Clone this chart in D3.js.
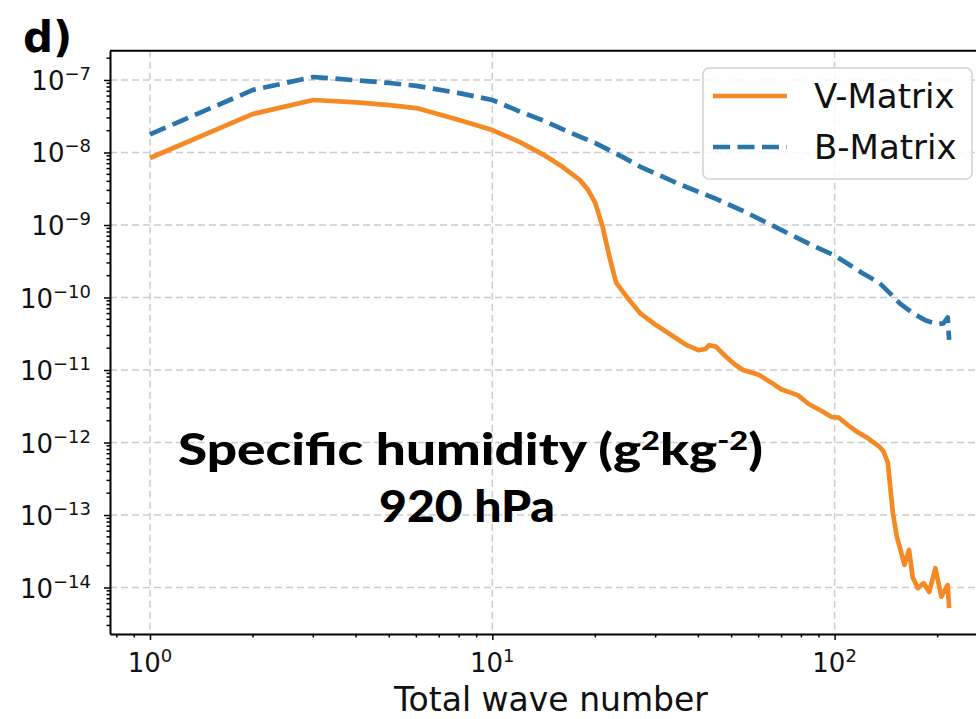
<!DOCTYPE html>
<html lang="en">
<head>
<meta charset="UTF-8" />
<title>Specific humidity spectra 920 hPa</title>
<style>
  body { margin: 0; background: #fff; }
  svg { display: block; font-family: 'DejaVu Sans', sans-serif; }
  .grid line { stroke: #cccccc; stroke-width: 1.5; stroke-dasharray: 7,4; }
  .axis path, .axis line { stroke: #000; }
  .axis path { stroke-width: 2; }
  .axis line { stroke-width: 1.5; }
  .tick-label { font-size: 26px; fill: #111; }
  .series { fill: none; stroke-width: 4.7; stroke-linejoin: round; }
  .note { font-family: Lato, sans-serif; font-weight: 900; font-size: 44px; fill: #000; }
</style>
</head>
<body>
<svg id="chart" width="976" height="719"></svg>
<script src="https://d3js.org/d3.v7.min.js"></script>
<script>
// V-Matrix spectrum (orange, solid)
const vWave = [1, 2, 3, 4, 5, 6, 8, 10, 12, 14, 16, 18, 19, 20, 21, 22, 23, 25, 27, 30, 34, 37, 40, 42, 43, 45, 48, 51, 54, 60, 65, 70, 78, 84, 92, 98, 103, 110, 116, 125, 135, 139, 143, 148, 152, 155, 160, 165, 169, 175, 182, 189, 197, 205, 214, 216];
const vPower = [8.4e-9, 3.4e-8, 5.3e-8, 4.9e-8, 4.5e-8, 4.1e-8, 2.8e-8, 2.04e-8, 1.4e-8, 9.5e-9, 6.4e-9, 4.2e-9, 3.1e-9, 2.0e-9, 9.5e-10, 3.6e-10, 1.6e-10, 9.5e-11, 6.1e-11, 4.2e-11, 2.85e-11, 2.2e-11, 1.88e-11, 1.95e-11, 2.2e-11, 2.1e-11, 1.55e-11, 1.2e-11, 1.0e-11, 8.6e-12, 6.8e-12, 5.4e-12, 4.5e-12, 3.4e-12, 2.7e-12, 2.25e-12, 2.2e-12, 1.7e-12, 1.42e-12, 1.15e-12, 8.8e-13, 7.5e-13, 5.3e-13, 1.06e-13, 5e-14, 3.6e-14, 2.05e-14, 3.3e-14, 1.4e-14, 9.8e-15, 1.15e-14, 8.7e-15, 1.85e-14, 7.5e-15, 1.08e-14, 5.2e-15];

// B-Matrix spectrum (blue, dashed)
const bWave = [1, 2, 3, 4, 5, 6, 8, 10, 12, 14, 17, 20, 24, 27, 35, 45, 55, 70, 85, 100, 120, 135, 145, 155, 170, 185, 200, 208, 214, 216];
const bPower = [1.78e-8, 7.3e-8, 1.1e-7, 9.9e-8, 9.1e-8, 8.3e-8, 6.6e-8, 5.3e-8, 3.7e-8, 2.8e-8, 1.85e-8, 1.35e-8, 8.7e-9, 6.4e-9, 3.7e-9, 2.3e-9, 1.5e-9, 8.5e-10, 5.4e-10, 3.8e-10, 2.2e-10, 1.6e-10, 1.15e-10, 8.3e-11, 6.0e-11, 4.8e-11, 4.3e-11, 4.4e-11, 5.3e-11, 2.6e-11];

const seriesNames = ["V-Matrix", "B-Matrix"];
const xExps = [0, 1, 2];
const yExps = [-7, -8, -9, -10, -11, -12, -13, -14];

const svg = d3.select("#chart");
const pLeft = 110, pRight = 989, pTop = 50.7, pBottom = 634;

const x = d3.scaleLog().domain([Math.pow(10, -0.1168), Math.pow(10, 2.451)]).range([pLeft, pRight]);
const y = d3.scaleLog().domain([Math.pow(10, -14.641), Math.pow(10, -6.596)]).range([pBottom, pTop]);

const minorTicks = (scale) => {
  const [a, b] = scale.domain();
  const out = [];
  for (let e = Math.floor(Math.log10(a)); e <= Math.ceil(Math.log10(b)); e++) {
    for (let k = 2; k <= 9; k++) {
      const v = k * Math.pow(10, e);
      if (v >= a && v <= b) out.push(v);
    }
  }
  return out;
};

// grid
const grid = svg.append("g").attr("class", "grid");
grid.selectAll(".gx").data(xExps).join("line")
  .attr("x1", d => x(Math.pow(10, d))).attr("x2", d => x(Math.pow(10, d)))
  .attr("y1", pTop).attr("y2", pBottom);
grid.selectAll(".gy").data(yExps).join("line")
  .attr("x1", pLeft).attr("x2", pRight)
  .attr("y1", d => y(Math.pow(10, d))).attr("y2", d => y(Math.pow(10, d)));

// clip
svg.append("clipPath").attr("id", "clip")
  .append("rect").attr("x", pLeft).attr("y", pTop).attr("width", pRight - pLeft).attr("height", pBottom - pTop);

const line = d3.line().x(d => x(d[0])).y(d => y(d[1]));

svg.append("path")
  .datum(vWave.map((w, i) => [w, vPower[i]]))
  .attr("class", "series")
  .attr("clip-path", "url(#clip)")
  .attr("stroke", "#f58a25")
  .attr("d", line);

svg.append("path")
  .datum(bWave.map((w, i) => [w, bPower[i]]))
  .attr("class", "series")
  .attr("clip-path", "url(#clip)")
  .attr("stroke", "#2a76ab")
  .attr("stroke-dasharray", "17,7.5")
  .attr("d", line);

// axes
const xAxis = svg.append("g").attr("class", "axis")
  .attr("transform", `translate(0,${pBottom})`)
  .call(d3.axisBottom(x).tickValues(xExps.map(e => Math.pow(10, e))).tickSize(6).tickSizeOuter(0).tickFormat(""));
xAxis.append("g").selectAll("line").data(minorTicks(x)).join("line")
  .attr("x1", d => x(d)).attr("x2", d => x(d)).attr("y1", 0).attr("y2", 3.5)
  .attr("stroke", "#000").attr("stroke-width", 1.2);

const yAxis = svg.append("g").attr("class", "axis")
  .attr("transform", `translate(${pLeft},0)`)
  .call(d3.axisLeft(y).tickValues(yExps.map(e => Math.pow(10, e))).tickSize(6).tickSizeOuter(0).tickFormat(""));
yAxis.append("g").selectAll("line").data(minorTicks(y)).join("line")
  .attr("y1", d => y(d)).attr("y2", d => y(d)).attr("x1", 0).attr("x2", -3.5)
  .attr("stroke", "#000").attr("stroke-width", 1.2);

// top spine
svg.append("line").attr("x1", pLeft).attr("x2", pRight).attr("y1", pTop).attr("y2", pTop)
  .attr("stroke", "#000").attr("stroke-width", 2);

// tick labels
const yl = svg.append("g").selectAll("text").data(yExps).join("text")
  .attr("class", "tick-label")
  .attr("x", 91)
  .attr("y", d => y(Math.pow(10, d)) + 10)
  .attr("text-anchor", "end");
yl.append("tspan").text("10");
yl.append("tspan").attr("dy", -10).style("font-size", "18px").text(d => "\u2212" + Math.abs(d));

const xl = svg.append("g").selectAll("text").data(xExps).join("text")
  .attr("class", "tick-label")
  .attr("x", d => x(Math.pow(10, d)))
  .attr("y", 672)
  .attr("text-anchor", "middle");
xl.append("tspan").text("10");
xl.append("tspan").attr("dy", -10).style("font-size", "18px").text(d => d);

svg.append("text")
  .attr("x", 551).attr("y", 711)
  .attr("text-anchor", "middle")
  .style("font-size", "33px").style("fill", "#111")
  .text("Total wave number");

// panel label
svg.append("text")
  .attr("x", 23).attr("y", 52)
  .style("font-size", "42px").style("font-weight", "bold")
  .text("d)");

// legend
const legend = svg.append("g");
legend.append("rect")
  .attr("x", 703).attr("y", 68).attr("width", 269).attr("height", 111).attr("rx", 6)
  .attr("fill", "#fff").attr("fill-opacity", 0.85)
  .attr("stroke", "#d2d2d2").attr("stroke-width", 1.5);
const legendRows = legend.selectAll("g").data(seriesNames).join("g")
  .attr("transform", (d, i) => `translate(0,${96 + i * 51})`);
legendRows.append("line")
  .attr("x1", 713).attr("x2", 787)
  .attr("stroke", (d, i) => i === 0 ? "#f58a25" : "#2a76ab")
  .attr("stroke-width", 4.7)
  .attr("stroke-dasharray", (d, i) => i === 0 ? null : "17,7.5");
legendRows.append("text")
  .attr("x", 814).attr("y", 12)
  .style("font-size", "34px").style("fill", "#111")
  .text(d => d);

// annotation
const note = svg.append("text")
  .attr("class", "note")
  .attr("x", 470.5).attr("y", 465)
  .attr("text-anchor", "middle")
  .attr("textLength", 585).attr("lengthAdjust", "spacingAndGlyphs");
note.append("tspan").text("Specific humidity (g");
note.append("tspan").attr("dy", -15).style("font-size", "27px").text("2");
note.append("tspan").attr("dy", 15).text("kg");
note.append("tspan").attr("dy", -15).style("font-size", "27px").text("-2");
note.append("tspan").attr("dy", 15).text(")");
svg.append("text")
  .attr("class", "note")
  .attr("x", 467).attr("y", 521.7)
  .attr("text-anchor", "middle")
  .attr("textLength", 176).attr("lengthAdjust", "spacingAndGlyphs")
  .text("920 hPa");
</script>
</body>
</html>
